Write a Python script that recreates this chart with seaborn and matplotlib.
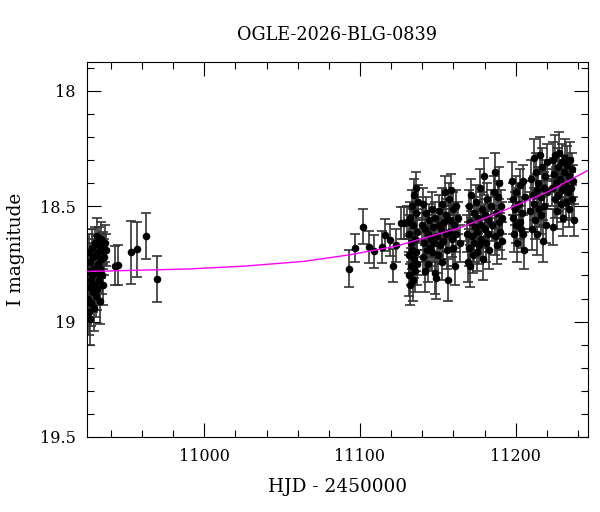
import numpy as np
import pandas as pd
import seaborn as sns
import matplotlib.pyplot as plt
from matplotlib.ticker import MultipleLocator

# Season 1 (start of 2026 bulge season)
hjd_a = [10925.0, 10925.3, 10925.6, 10925.9, 10926.2, 10926.5, 10926.8, 10927.1, 10927.4,
         10927.7, 10928.0, 10928.3, 10928.6, 10928.9, 10929.2, 10929.5, 10929.8, 10930.1,
         10930.4, 10930.7, 10931.0, 10931.3, 10931.6, 10931.9, 10932.2, 10932.5, 10932.8,
         10933.1, 10933.4, 10933.7, 10934.0, 10934.6, 10935.2, 10935.8, 10936.4, 10937.0,
         10942.6, 10944.5, 10952.7, 10956.7, 10962.7, 10969.6]
mag_a = [18.90, 18.78, 18.96, 18.70, 18.85, 18.99, 18.74, 18.82, 18.92,
         18.68, 18.80, 18.87, 18.72, 18.94, 18.77, 18.66, 18.84, 18.89,
         18.71, 18.79, 18.63, 18.86, 18.75, 18.70, 18.82, 18.67, 18.77,
         18.91, 18.73, 18.64, 18.80, 18.69, 18.84, 18.72, 18.66, 18.69,
         18.757, 18.755, 18.70, 18.687, 18.63, 18.817]
err_a = [0.09, 0.08, 0.10, 0.08, 0.09, 0.11, 0.08, 0.09, 0.10,
         0.08, 0.08, 0.09, 0.08, 0.10, 0.08, 0.07, 0.09, 0.09,
         0.08, 0.08, 0.08, 0.09, 0.08, 0.07, 0.09, 0.08, 0.08,
         0.10, 0.08, 0.07, 0.08, 0.08, 0.09, 0.08, 0.08, 0.07,
         0.085, 0.085, 0.135, 0.12, 0.10, 0.10]

# Season 2, sparse start
hjd_b = [11093.1, 11097.1, 11102.1, 11106.1, 11109.1, 11114.1, 11116.2, 11119.2, 11121.1,
         11123.3, 11126.3, 11128.0, 11130.5]
mag_b = [18.771, 18.680, 18.588, 18.678, 18.696, 18.678, 18.626, 18.645, 18.757,
         18.670, 18.574, 18.572, 18.570]
err_b = [0.081, 0.060, 0.074, 0.070, 0.072, 0.070, 0.070, 0.070, 0.070,
         0.070, 0.070, 0.070, 0.070]

# Season 2, dense part
hjd_c = [11131.2, 11131.5, 11131.8, 11132.1, 11132.4, 11132.7, 11133.0, 11133.3, 11133.6,
         11133.9, 11134.2, 11134.5, 11134.8, 11135.1, 11135.4, 11135.7, 11136.0, 11136.3,
         11136.6, 11136.9, 11137.2,
         11140.0, 11140.4, 11140.8, 11141.2, 11141.6, 11142.0, 11142.5, 11143.0, 11143.5,
         11144.0, 11144.5, 11145.0, 11145.5, 11146.0, 11146.5, 11147.0, 11147.5, 11148.0,
         11148.5, 11149.0, 11149.5, 11150.0, 11150.5, 11151.0, 11151.5, 11152.0, 11152.5,
         11153.0, 11153.5, 11154.0, 11154.5, 11155.0, 11155.5, 11156.0, 11156.3, 11157.0,
         11157.5, 11158.0, 11158.5, 11159.0, 11159.5, 11160.0, 11160.5, 11161.0, 11161.5,
         11162.0, 11163.0, 11164.0]
mag_c = [18.62, 18.80, 18.71, 18.55, 18.84, 18.66, 18.76, 18.50, 18.69,
         18.82, 18.58, 18.73, 18.45, 18.64, 18.78, 18.53, 18.70, 18.42,
         18.61, 18.75, 18.48,
         18.58, 18.72, 18.49, 18.66, 18.78, 18.60, 18.53, 18.69, 18.62,
         18.75, 18.56, 18.68, 18.64, 18.51, 18.70, 18.59, 18.66, 18.79,
         18.55, 18.81, 18.63, 18.71, 18.58, 18.52, 18.67, 18.60, 18.74,
         18.49, 18.65, 18.57, 18.44, 18.62, 18.54, 18.69, 18.82, 18.47,
         18.61, 18.56, 18.43, 18.64, 18.51, 18.68, 18.58, 18.76, 18.50,
         18.62, 18.55, 18.66]
err_c = [0.08, 0.09, 0.08, 0.07, 0.09, 0.08, 0.08, 0.07, 0.08,
         0.09, 0.07, 0.08, 0.07, 0.08, 0.09, 0.07, 0.08, 0.07,
         0.08, 0.09, 0.07,
         0.07, 0.08, 0.07, 0.08, 0.09, 0.07, 0.07, 0.08, 0.08,
         0.08, 0.07, 0.08, 0.08, 0.07, 0.08, 0.07, 0.08, 0.09,
         0.07, 0.09, 0.08, 0.08, 0.07, 0.07, 0.08, 0.07, 0.08,
         0.07, 0.08, 0.07, 0.07, 0.08, 0.07, 0.08, 0.09, 0.07,
         0.08, 0.07, 0.07, 0.08, 0.07, 0.08, 0.07, 0.08, 0.07,
         0.08, 0.07, 0.08]

hjd_d = [11169.0, 11169.4, 11169.8, 11170.2, 11170.6, 11171.0, 11171.5, 11172.0, 11172.5,
         11173.0, 11173.5, 11174.0, 11174.5, 11175.0, 11175.5, 11176.0, 11176.5, 11177.0,
         11177.5, 11178.0, 11178.5, 11179.0, 11179.5, 11180.0, 11180.5, 11181.0, 11181.5,
         11182.0, 11182.5, 11183.0, 11184.0, 11185.0, 11186.0, 11186.5, 11187.0, 11187.5,
         11188.0, 11188.5, 11189.0, 11189.5, 11190.0, 11190.5, 11191.0, 11191.5]
mag_d = [18.62, 18.74, 18.50, 18.68, 18.57, 18.76, 18.45, 18.63, 18.71,
         18.53, 18.66, 18.59, 18.48, 18.70, 18.61, 18.55, 18.67, 18.42,
         18.58, 18.64, 18.51, 18.73, 18.37, 18.60, 18.54, 18.66, 18.47,
         18.62, 18.56, 18.69, 18.50, 18.58, 18.44, 18.63, 18.35, 18.53,
         18.67, 18.46, 18.57, 18.40, 18.61, 18.50, 18.65, 18.55]
err_d = [0.08, 0.09, 0.07, 0.08, 0.07, 0.09, 0.07, 0.08, 0.08,
         0.07, 0.08, 0.07, 0.07, 0.08, 0.08, 0.07, 0.08, 0.08,
         0.07, 0.08, 0.07, 0.09, 0.08, 0.08, 0.07, 0.08, 0.07,
         0.08, 0.07, 0.08, 0.07, 0.07, 0.07, 0.08, 0.08, 0.07,
         0.08, 0.07, 0.07, 0.07, 0.08, 0.07, 0.08, 0.07]

hjd_e = [11197.5, 11198.0, 11198.5, 11199.0, 11199.5, 11200.0, 11200.5, 11201.0, 11202.0,
         11202.5, 11203.0, 11203.5, 11204.0, 11204.5, 11205.0, 11205.5, 11206.0,
         11209.5, 11210.0, 11210.5, 11211.0, 11211.5, 11212.0, 11212.5, 11213.0, 11213.5,
         11214.0, 11214.5, 11215.0, 11215.5, 11216.0, 11216.5, 11217.0, 11217.5, 11218.0,
         11218.5, 11219.0, 11219.5, 11220.0, 11220.3]
mag_e = [18.39, 18.55, 18.47, 18.62, 18.51, 18.44, 18.58, 18.66, 18.49,
         18.57, 18.41, 18.60, 18.53, 18.39, 18.62, 18.69, 18.46,
         18.52, 18.38, 18.60, 18.45, 18.29, 18.49, 18.56, 18.35, 18.43,
         18.62, 18.40, 18.51, 18.28, 18.46, 18.54, 18.33, 18.65, 18.42,
         18.50, 18.37, 18.58, 18.44, 18.31]
err_e = [0.08, 0.07, 0.07, 0.08, 0.07, 0.07, 0.08, 0.08, 0.07,
         0.07, 0.07, 0.08, 0.07, 0.07, 0.08, 0.08, 0.07,
         0.08, 0.08, 0.09, 0.07, 0.08, 0.07, 0.08, 0.08, 0.07,
         0.09, 0.07, 0.08, 0.08, 0.07, 0.08, 0.08, 0.09, 0.07,
         0.08, 0.07, 0.08, 0.07, 0.08]

hjd_f = [11223.5, 11224.0, 11224.3, 11224.6, 11225.0, 11225.5, 11226.0, 11226.5, 11227.0,
         11227.5, 11228.0, 11228.5, 11229.0, 11229.5, 11230.0, 11230.5, 11231.0, 11231.5,
         11232.0, 11232.5, 11233.0, 11233.5, 11234.0, 11234.5, 11235.0, 11235.5, 11236.0,
         11236.5, 11237.0, 11237.3]
mag_f = [18.42, 18.30, 18.59, 18.36, 18.47, 18.28, 18.40, 18.52, 18.33,
         18.45, 18.27, 18.38, 18.49, 18.31, 18.43, 18.55, 18.35, 18.29,
         18.41, 18.48, 18.32, 18.44, 18.37, 18.51, 18.30, 18.42, 18.34,
         18.47, 18.39, 18.56]
err_f = [0.08, 0.08, 0.08, 0.07, 0.08, 0.09, 0.07, 0.08, 0.08,
         0.07, 0.09, 0.08, 0.08, 0.08, 0.07, 0.08, 0.07, 0.08,
         0.07, 0.08, 0.08, 0.07, 0.08, 0.08, 0.08, 0.07, 0.07,
         0.08, 0.07, 0.07]

# microlensing model
model_hjd = [10924.0, 10990.0, 11027.0, 11064.0, 11094.0, 11122.6, 11164.4, 11190.2, 11220.0, 11247.0]
model_mag = [18.783, 18.772, 18.759, 18.739, 18.710, 18.674, 18.593, 18.525, 18.440, 18.343]

df = pd.DataFrame({
    "hjd": hjd_a + hjd_b + hjd_c + hjd_d + hjd_e + hjd_f,
    "mag": mag_a + mag_b + mag_c + mag_d + mag_e + mag_f,
    "err": err_a + err_b + err_c + err_d + err_e + err_f,
})
model = pd.DataFrame({"hjd": model_hjd, "mag": model_mag})

sns.set_style("ticks")
plt.rcParams["font.family"] = ["DejaVu Serif"]
plt.rcParams["text.color"] = "black"
plt.rcParams["axes.labelcolor"] = "black"
plt.rcParams["xtick.color"] = "black"
plt.rcParams["ytick.color"] = "black"

fig = plt.figure(figsize=(6, 5.12), dpi=100)
ax = fig.add_axes([0.145, 0.1465, 0.835, 0.7325])

ax.errorbar(df["hjd"], df["mag"], yerr=df["err"], fmt="none", ecolor="0.2",
            elinewidth=1.2, capsize=3.5, capthick=1.2, zorder=2)
sns.scatterplot(data=df, x="hjd", y="mag", color="black", s=30, linewidth=0,
                ax=ax, zorder=3)
sns.lineplot(data=model, x="hjd", y="mag", color="magenta", linewidth=1.0,
             ax=ax, zorder=4)

ax.set_xlim(10924.6, 11246.5)
ax.set_ylim(19.5, 17.875)
ax.xaxis.set_major_locator(MultipleLocator(100))
ax.xaxis.set_minor_locator(MultipleLocator(20))
ax.yaxis.set_major_locator(MultipleLocator(0.5))
ax.yaxis.set_minor_locator(MultipleLocator(0.1))
ax.yaxis.set_major_formatter(plt.FuncFormatter(lambda v, p: f"{v:g}"))
ax.tick_params(which="both", direction="in", top=True, right=True, labelsize=11.5,
               color="black", labelcolor="black", width=0.8)
ax.tick_params(which="major", length=10, pad=8)
ax.tick_params(which="minor", length=5)
for s in ax.spines.values():
    s.set_linewidth(0.8)
    s.set_color("black")

ax.set_title("OGLE-2026-BLG-0839", fontsize=12.7, pad=16, color="black")
ax.set_xlabel("HJD - 2450000", fontsize=13.3, labelpad=9)
ax.set_ylabel("I magnitude", fontsize=13.3, labelpad=11)

fig.savefig("out.png", dpi=100)
